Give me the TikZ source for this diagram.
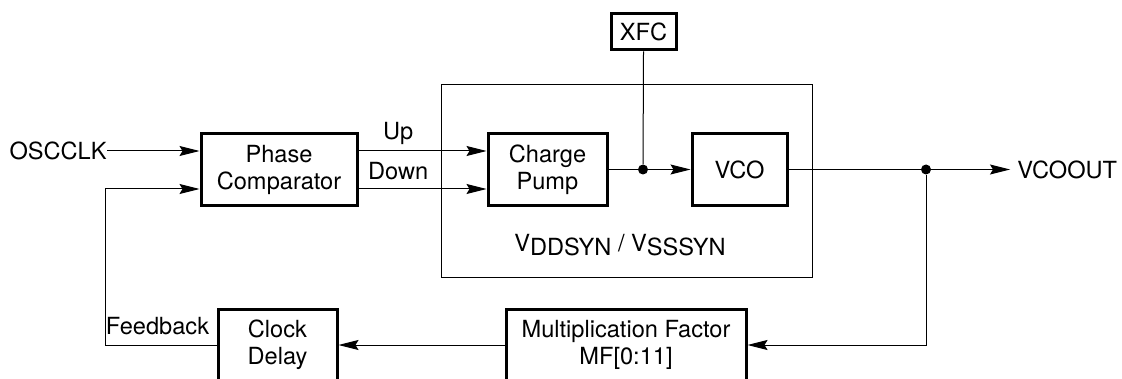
\documentclass[tikz,border=0pt]{standalone}
\usepackage{fontspec}
\setmainfont{TeX Gyre Heros}
\usetikzlibrary{arrows.meta,positioning,calc}
\newcommand{\sigfont}{\fontsize{11.8}{13.5}\selectfont}
\tikzset{
  blockbox/.style={draw, line width=1.5pt, inner sep=0pt,
    minimum height=35.5pt, align=center, font=\sigfont},
  supplybox/.style={draw, line width=0.5pt, inner sep=0pt,
    minimum width=185.5pt, minimum height=96pt},
  lbl/.style={inner sep=0pt, font=\sigfont},
  flow/.style={-{Stealth[length=10pt,width=5pt,inset=1.5pt]}, line width=0.5pt},
  wire/.style={line width=0.5pt},
  junction/.style={circle, fill, inner sep=0pt, minimum size=5pt}
}

\begin{document}
\begin{tikzpicture}[x=0.5pt, y=-0.5pt]
\useasboundingbox (0,0) rectangle (1122,379);
\node[supplybox] (sup) at (626.5,181) {};
\node[lbl] (suplbl) at (620,245) {V\raisebox{-0.3ex}{DDSYN} / V\raisebox{-0.3ex}{SSSYN}};
\node[blockbox, minimum width=78pt] (pc) at (279,169.5) {Phase\\Comparator};
\node[blockbox, minimum width=59.5pt] (cp) at (547.5,169.5) {Charge\\Pump};
\node[blockbox, minimum width=47.5pt] (vco) at (739.5,169.5) {VCO};
\node[blockbox, minimum width=32.5pt, minimum height=18pt] (xfc) at (643.5,32) {XFC};
\node[blockbox, minimum width=120pt] (mf) at (626,345) {Multiplication Factor\\MF[0:11]};
\node[blockbox, minimum width=59.5pt] (cd) at (277.5,345) {Clock\\Delay};
\node[lbl, anchor=east] (osc) at (107,151) {OSCCLK};
\node[lbl, anchor=west] (vout) at (1017,169.5) {VCOOUT};
\node[lbl, above left=5pt and 3.5pt of cd.west] (fb) {Feedback};
\node[junction] (j1) at (643,169.5) {};
\node[junction] (j2) at (926,169.5) {};
\coordinate (fbc) at (105,189);

\draw[flow] (osc.east) -- (osc.east -| pc.west);
\draw[flow] (pc.east |- osc.east) -- (cp.west |- osc.east) node[lbl, pos=0.31, above=3pt] {Up};
\draw[flow] (pc.east |- fbc) -- (cp.west |- fbc) node[lbl, pos=0.31, above=4.5pt] {Down};
\draw[wire] (cp.east) -- (j1);
\draw[wire] (xfc.south) -- (j1);
\draw[flow] (j1) -- (vco.west);
\draw[wire] (vco.east) -- (j2);
\draw[flow] (j2) -- ([xshift=-3.5pt]vout.west);
\draw[flow] (j2) |- (mf.east);
\draw[flow] (mf.west) -- (cd.east);
\draw[flow] (cd.west) -| (fbc) -- (fbc -| pc.west);
\end{tikzpicture}
\end{document}
